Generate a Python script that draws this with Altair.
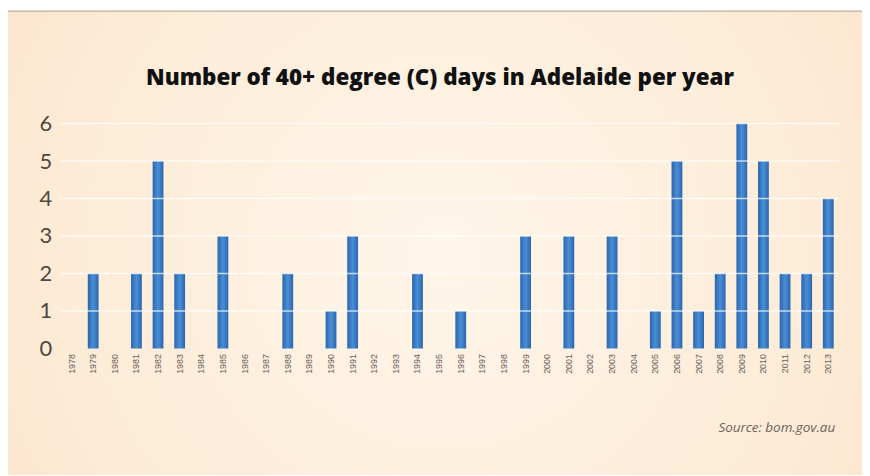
import altair as alt
import pandas as pd

years = [str(y) for y in range(1978, 2014)]
days = [0, 2, 0, 2, 5, 2, 0, 3, 0, 0, 2, 0, 1, 3, 0, 0, 2, 0, 1, 0, 0, 3, 0, 3, 0, 3,
        0, 1, 5, 1, 2, 6, 5, 2, 2, 4]
grid_values = [1, 2, 3, 4, 5, 6]
y_ticks = [0, 1, 2, 3, 4, 5, 6]
title_text = ["Number of 40+ degree (C) days in Adelaide per year"]
source_text = ["Source: bom.gov.au"]

df = pd.DataFrame({"year": years, "days": days})
grid_df = pd.DataFrame({"days": grid_values})

W, H = 782, 226
PAD_L, PAD_T, PAD_R, PAD_B = 53, 115, 23, 126

y_axis = alt.Axis(title=None, values=y_ticks, labelFontSize=22,
                  labelColor="#4E4842", labelFont="Lato",
                  labelFontWeight=400, labelPadding=9,
                  labelOverlap=False, labelFlush=False,
                  ticks=False, domain=False, grid=False, zindex=2)
y_scale = alt.Scale(domain=[0, 6], nice=False)

bg = alt.Chart(pd.DataFrame({"a": [0]})).mark_rect(
    fill=alt.RadialGradient(
        gradient="radial", x1=0.5, y1=0.5, x2=0.5, y2=0.5, r1=0.0, r2=0.75,
        stops=[alt.GradientStop(offset=0, color="#FEF6EA"),
               alt.GradientStop(offset=0.6, color="#FDEBD6"),
               alt.GradientStop(offset=1, color="#FBDDC2")]),
    stroke="#A89A8C", strokeWidth=1,
).encode(
    x=alt.value(-PAD_L - 2), x2=alt.value(W + PAD_R + 20),
    y=alt.value(-PAD_T + 2), y2=alt.value(H + PAD_B + 20),
)

bars = alt.Chart(df).mark_bar(
    color=alt.LinearGradient(
        gradient="linear", x1=0, x2=1, y1=0, y2=0,
        stops=[alt.GradientStop(offset=0, color="#2A66AE"),
               alt.GradientStop(offset=0.5, color="#4A8ED6"),
               alt.GradientStop(offset=1, color="#2A66AE")]),
).encode(
    x=alt.X("year:N", sort=years,
            scale=alt.Scale(paddingInner=0.5, paddingOuter=0.25),
            axis=alt.Axis(title=None, labelAngle=270, labelFontSize=9,
                          labelColor="#6A625C", labelFont="Liberation Sans",
                          labelPadding=5, ticks=False, domain=False,
                          labelOverlap=False, zindex=2)),
    y=alt.Y("days:Q", scale=y_scale, axis=y_axis),
)

grid = alt.Chart(grid_df).mark_rule(
    color="white", strokeWidth=1.5, opacity=0.7
).encode(y=alt.Y("days:Q", scale=y_scale, axis=y_axis))

title = alt.Chart(pd.DataFrame({"t": title_text})).mark_text(
    align="center", baseline="middle", fontSize=22.5, font="Open Sans",
    fontWeight=800, color="#111111",
).encode(text="t:N", x=alt.value(W / 2 - 10), y=alt.value(-46))

source = alt.Chart(pd.DataFrame({"t": source_text})).mark_text(
    align="right", baseline="middle", fontSize=13.5, fontStyle="italic",
    font="Open Sans", color="#6A625A",
).encode(text="t:N", x=alt.value(W - 4), y=alt.value(H + 80))

chart = alt.layer(bg, bars, grid, title, source).properties(
    width=W, height=H,
    padding={"left": PAD_L, "top": PAD_T, "right": PAD_R, "bottom": PAD_B},
    autosize=alt.AutoSizeParams(type="none"),
    background="white",
).configure_view(stroke=None).configure_axisX(
    labelAngle=270
).configure_axisY(
    labelOverlap=False
)

chart.save("out.html", embed_options={"renderer": "svg", "actions": False})
